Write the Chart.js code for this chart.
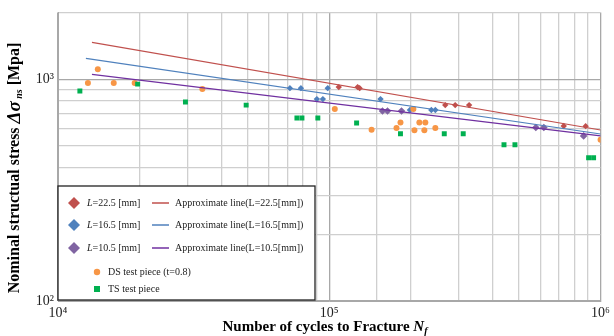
<!DOCTYPE html>
<html>
<head>
<meta charset="utf-8">
<script src="https://cdn.jsdelivr.net/npm/chart.js@4/dist/chart.umd.min.js"></script>
<style>
  html, body { margin: 0; padding: 0; background: #fff; }
</style>
</head>
<body>
<canvas id="grafico" width="614" height="336"></canvas>
<script>
// valores (ciclos, tensao MPa)
const l225X = [108400, 127200, 129400, 267600, 291200, 327700, 731500, 881000];
const l225Y = [921, 921, 911, 764, 764, 764, 615, 614];

const l165X = [71600, 78600, 90000, 94700, 98700, 154500, 198300, 237800, 246000];
const l165Y = [911, 911, 813, 813, 911, 813, 726, 726, 726];

const l105X = [157100, 163900, 184600, 577300, 617900, 866000];
const l105Y = [719, 719, 719, 606, 606, 555];

const dsX = [12890, 14020, 16050, 19170, 34050, 104800, 143200, 176900, 183000, 204200, 206000, 214800, 226000, 224100, 246000, 1000000];
const dsY = [960, 1109, 960, 960, 902, 734, 591, 603, 638, 734, 588, 638, 638, 588, 603, 533];

const tsX = [12040, 19660, 29500, 49390, 75990, 79290, 90750, 126100, 183000, 265400, 311700, 440600, 483500, 903600, 942600];
const tsY = [884, 950, 789, 764, 669, 669, 669, 635, 567, 567, 567, 506, 506, 442, 442];

// retas aproximadas (inicio e fim)
const apx225X = [13340, 1000000];
const apx225Y = [1466, 590];
const apx165X = [12670, 1000000];
const apx165Y = [1242, 566];
const apx105X = [13340, 1000000];
const apx105Y = [1052, 555];

const xTickVals = [10000, 100000, 1000000];
const xTickText = ['10⁴', '10⁵', '10⁶'];
const yTickVals = [100, 1000];
const yTickText = ['10²', '10³'];

const corVermelho = '#C0504D';
const corAzul = '#4F81BD';
const corRoxo = '#8064A2';
const corRoxoLinha = '#7030A0';
const corLaranja = '#F79646';
const corVerde = '#00B050';

function pares(xs, ys) {
    return xs.map(function (x, i) { return { x: x, y: ys[i] }; });
}

function pontos(label, xs, ys, cor, estilo, raio) {
    return {
        label: label,
        data: pares(xs, ys),
        backgroundColor: cor,
        borderColor: cor,
        pointStyle: estilo,
        pointRadius: raio,
        pointHoverRadius: raio,
        borderWidth: 0,
        showLine: false
    };
}

function reta(label, xs, ys, cor) {
    return {
        label: label,
        data: pares(xs, ys),
        borderColor: cor,
        backgroundColor: cor,
        borderWidth: 1.2,
        pointRadius: 0,
        showLine: true,
        fill: false
    };
}

// desenha textos com partes em estilos diferentes
function desenhaPartes(ctx, partes, cx, cy, rot) {
    ctx.save();
    ctx.translate(cx, cy);
    if (rot) ctx.rotate(-Math.PI / 2);
    let total = 0;
    partes.forEach(function (p) { ctx.font = p.font; total += ctx.measureText(p.t).width; });
    let x = -total / 2;
    ctx.fillStyle = '#000';
    ctx.textAlign = 'left';
    ctx.textBaseline = 'middle';
    partes.forEach(function (p) {
        ctx.font = p.font;
        ctx.fillText(p.t, x, p.dy || 0);
        x += ctx.measureText(p.t).width;
    });
    ctx.restore();
}

const fonte = '"Liberation Serif", "Times New Roman", serif';

const extras = {
    id: 'extras',
    afterDraw: function (chart) {
        const ctx = chart.ctx;
        // titulos dos eixos
        desenhaPartes(ctx, [
            { t: 'Number of cycles to Fracture ', font: 'bold 15px ' + fonte },
            { t: 'N', font: 'italic bold 15px ' + fonte },
            { t: 'f', font: 'italic bold 10px ' + fonte, dy: 4 }
        ], 325, 327, false);
        desenhaPartes(ctx, [
            { t: 'Nominal structual stress ', font: 'bold 16px ' + fonte },
            { t: 'Δσ', font: 'italic bold 19px ' + fonte },
            { t: ' ns', font: 'italic bold 10px ' + fonte, dy: 4 },
            { t: ' [Mpa]', font: 'bold 16px ' + fonte }
        ], 15, 168, true);

        // legenda
        const bx = 58, by = 186, bw = 257, bh = 114;
        ctx.save();
        ctx.fillStyle = '#fff';
        ctx.fillRect(bx, by, bw, bh);
        ctx.strokeStyle = '#222';
        ctx.lineWidth = 1.3;
        ctx.strokeRect(bx, by, bw, bh);

        const linhas = [
            { cor: corVermelho, linha: corVermelho, v: '22.5', y: 203 },
            { cor: corAzul, linha: corAzul, v: '16.5', y: 225 },
            { cor: corRoxo, linha: corRoxoLinha, v: '10.5', y: 248 }
        ];
        ctx.textBaseline = 'middle';
        ctx.textAlign = 'left';
        linhas.forEach(function (l) {
            ctx.fillStyle = l.cor;
            ctx.beginPath();
            ctx.moveTo(74, l.y - 6);
            ctx.lineTo(80, l.y);
            ctx.lineTo(74, l.y + 6);
            ctx.lineTo(68, l.y);
            ctx.closePath();
            ctx.fill();
            ctx.fillStyle = '#222';
            ctx.font = 'italic 10px ' + fonte;
            ctx.fillText('L', 87, l.y);
            let w = ctx.measureText('L').width;
            ctx.font = '10px ' + fonte;
            ctx.fillText('=' + l.v + ' [mm]', 87 + w, l.y);
            ctx.strokeStyle = l.linha;
            ctx.lineWidth = 1.5;
            ctx.beginPath();
            ctx.moveTo(152, l.y);
            ctx.lineTo(169, l.y);
            ctx.stroke();
            ctx.fillText('Approximate line(L=' + l.v + '[mm])', 175, l.y);
        });
        ctx.fillStyle = corLaranja;
        ctx.beginPath();
        ctx.arc(97, 272, 3.2, 0, Math.PI * 2);
        ctx.fill();
        ctx.fillStyle = corVerde;
        ctx.fillRect(94, 286, 6, 6);
        ctx.fillStyle = '#222';
        ctx.font = '10px ' + fonte;
        ctx.fillText('DS test piece (t=0.8)', 108, 272);
        ctx.fillText('TS test piece', 108, 289);
        ctx.restore();
    }
};

const data = {
    datasets: [
        reta('Approximate line(L=22.5[mm])', apx225X, apx225Y, corVermelho),
        reta('Approximate line(L=16.5[mm])', apx165X, apx165Y, corAzul),
        reta('Approximate line(L=10.5[mm])', apx105X, apx105Y, corRoxoLinha),
        pontos('TS test piece', tsX, tsY, corVerde, 'rect', 3.5),
        pontos('DS test piece (t=0.8)', dsX, dsY, corLaranja, 'circle', 3),
        pontos('L=10.5 [mm]', l105X, l105Y, corRoxo, 'rectRot', 3.8),
        pontos('L=16.5 [mm]', l165X, l165Y, corAzul, 'rectRot', 3.2),
        pontos('L=22.5 [mm]', l225X, l225Y, corVermelho, 'rectRot', 3.2)
    ]
};

function corGrade(ctx) {
    const v = ctx.tick && ctx.tick.value;
    if (v === undefined) return '#c8c8c8';
    if (ctx.scale.axis === 'y' && v > 1000 && v < 2000) return 'rgba(0,0,0,0)';
    const l = Math.log10(v);
    if (Math.abs(l - Math.round(l)) < 1e-6) return '#a8a8a8';
    return '#cfcfcf';
}

const config = {
    type: 'scatter',
    data: data,
    options: {
        responsive: false,
        animation: false,
        layout: { padding: { left: 0, right: 11, top: 11, bottom: 0 } },
        plugins: {
            legend: { display: false },
            tooltip: { enabled: false }
        },
        scales: {
            x: {
                type: 'logarithmic',
                min: 10000,
                max: 1000000,
                afterFit: function (s) { s.height = 35; },
                grid: { color: corGrade, lineWidth: 1.3, drawTicks: false },
                border: { color: '#a8a8a8' },
                ticks: {
                    autoSkip: false,
                    maxRotation: 0,
                    padding: 4,
                    color: '#222',
                    font: { family: fonte, size: 14 },
                    callback: function (v) {
                        const i = xTickVals.indexOf(v);
                        return i >= 0 ? xTickText[i] : '';
                    }
                }
            },
            y: {
                type: 'logarithmic',
                min: 100,
                max: 2000,
                afterFit: function (s) { s.width = 58; },
                grid: { color: corGrade, lineWidth: 1.3, drawTicks: false },
                border: { color: '#a8a8a8' },
                ticks: {
                    autoSkip: false,
                    padding: 4,
                    color: '#222',
                    font: { family: fonte, size: 14 },
                    callback: function (v) {
                        const i = yTickVals.indexOf(v);
                        return i >= 0 ? yTickText[i] : '';
                    }
                }
            }
        }
    },
    plugins: [extras]
};

const ctx = document.getElementById('grafico');
grafico = new Chart(ctx, config);
</script>
</body>
</html>
